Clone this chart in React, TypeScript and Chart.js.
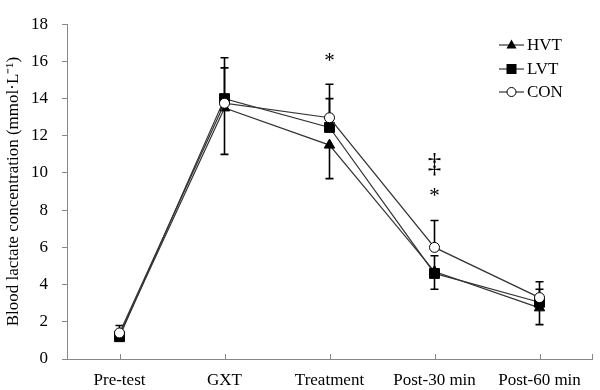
import React, { useEffect, useRef } from "react";
import { Chart, registerables } from "chart.js";

Chart.register(...registerables);

const categories = ["Pre-test", "GXT", "Treatment", "Post-30 min", "Post-60 min"];
const yTicks = [0, 2, 4, 6, 8, 10, 12, 14, 16, 18];

const hvt = [1.3, 13.5, 11.5, 4.7, 2.75];
const lvt = [1.2, 14.0, 12.45, 4.6, 3.05];
const con = [1.4, 13.75, 12.97, 6.0, 3.3];

const hvtErrUp = [0, 0, 0, 0.85, 0];
const hvtErrDown = [0, 2.5, 1.8, 0, 0.9];
const lvtErrUp = [0, 2.2, 1.55, 0, 0.7];
const lvtErrDown = [0, 0, 0, 0.85, 0];
const conErrUp = [0.4, 1.9, 1.8, 1.45, 0.85];
const conErrDown = [0, 0, 0, 0, 0];

const seriesNames = ["HVT", "LVT", "CON"];

const annotationCats = [2, 3, 3];
const annotationTexts = ["*", "*", "‡"];
const annotationValues = [16.0, 8.75, 10.45];
const annotationSizes = [21, 21, 27];

const FONT = "'Liberation Serif', 'Times New Roman', serif";

export default function App() {
  const ref = useRef<HTMLCanvasElement | null>(null);

  useEffect(() => {
    document.body.style.margin = "0";
    const canvas = ref.current;
    if (!canvas) return;

    const errUps = [hvtErrUp, lvtErrUp, conErrUp];
    const errDowns = [hvtErrDown, lvtErrDown, conErrDown];

    const errorBarPlugin = {
      id: "errorBars",
      beforeDatasetsDraw(chart: any) {
        const ctx = chart.ctx;
        const xs = chart.scales.x;
        const ys = chart.scales.y;
        const datas = [hvt, lvt, con];
        ctx.save();
        ctx.strokeStyle = "#000";
        ctx.lineWidth = 1.6;
        datas.forEach((d, si) => {
          d.forEach((v, i) => {
            const x = xs.getPixelForValue(i);
            const y0 = ys.getPixelForValue(v);
            const ends: number[] = [];
            if (errUps[si][i] > 0) ends.push(v + errUps[si][i]);
            if (errDowns[si][i] > 0) ends.push(v - errDowns[si][i]);
            ends.forEach((e) => {
              const y1 = ys.getPixelForValue(e);
              ctx.beginPath();
              ctx.moveTo(x, y0);
              ctx.lineTo(x, y1);
              ctx.moveTo(x - 4, y1);
              ctx.lineTo(x + 4, y1);
              ctx.stroke();
            });
          });
        });
        ctx.restore();
      },
    };

    const decoPlugin = {
      id: "deco",
      afterDraw(chart: any) {
        const ctx = chart.ctx;
        const xs = chart.scales.x;
        const ys = chart.scales.y;
        const area = chart.chartArea;
        ctx.save();
        ctx.strokeStyle = "#888";
        ctx.lineWidth = 1;
        const tickXs = categories.map((_, i) => xs.getPixelForValue(i));
        tickXs.push(area.right);
        tickXs.forEach((x) => {
          const xx = Math.round(x) + 0.5;
          ctx.beginPath();
          ctx.moveTo(xx, area.bottom);
          ctx.lineTo(xx, area.bottom - 5);
          ctx.stroke();
        });
        ctx.fillStyle = "#000";
        ctx.textAlign = "center";
        ctx.textBaseline = "middle";
        annotationTexts.forEach((t, k) => {
          ctx.font = `${annotationSizes[k]}px ${FONT}`;
          ctx.fillText(t, xs.getPixelForValue(annotationCats[k]), ys.getPixelForValue(annotationValues[k]));
        });
        const lx0 = area.right - 93;
        const lx1 = area.right - 68;
        const mx = (lx0 + lx1) / 2;
        const rows = [45, 69, 92];
        ctx.font = `17px ${FONT}`;
        ctx.textAlign = "left";
        seriesNames.forEach((name, i) => {
          const y = rows[i];
          ctx.strokeStyle = "#333";
          ctx.lineWidth = 1.2;
          ctx.beginPath();
          ctx.moveTo(lx0, y);
          ctx.lineTo(lx1, y);
          ctx.stroke();
          ctx.fillStyle = "#000";
          ctx.strokeStyle = "#000";
          ctx.lineWidth = 1;
          if (i === 0) {
            ctx.beginPath();
            ctx.moveTo(mx, y - 5.5);
            ctx.lineTo(mx + 5, y + 3.5);
            ctx.lineTo(mx - 5, y + 3.5);
            ctx.closePath();
            ctx.fill();
          } else if (i === 1) {
            ctx.fillRect(mx - 5, y - 5, 10, 10);
          } else {
            ctx.fillStyle = "#fff";
            ctx.beginPath();
            ctx.arc(mx, y, 4.5, 0, Math.PI * 2);
            ctx.fill();
            ctx.stroke();
          }
          ctx.fillStyle = "#000";
          ctx.fillText(name, lx1 + 3, y + 1);
        });
        ctx.restore();
      },
    };

    const chart = new Chart(canvas, {
      type: "line",
      data: {
        labels: categories,
        datasets: [
          {
            label: "HVT",
            data: hvt,
            borderColor: "#333",
            borderWidth: 1.2,
            pointStyle: "triangle",
            pointRadius: 6,
            pointBackgroundColor: "#000",
            pointBorderColor: "#000",
            pointBorderWidth: 1,
            order: 2,
          },
          {
            label: "LVT",
            data: lvt,
            borderColor: "#333",
            borderWidth: 1.2,
            pointStyle: "rect",
            pointRadius: 7,
            pointBackgroundColor: "#000",
            pointBorderColor: "#000",
            pointBorderWidth: 1,
            order: 1,
          },
          {
            label: "CON",
            data: con,
            borderColor: "#333",
            borderWidth: 1.2,
            pointStyle: "circle",
            pointRadius: 5,
            pointBackgroundColor: "#fff",
            pointBorderColor: "#000",
            pointBorderWidth: 1,
            order: 0,
          },
        ],
      },
      options: {
        responsive: false,
        animation: false,
        events: [],
        layout: { padding: { top: 13, right: 5, left: 0, bottom: 0 } },
        plugins: { legend: { display: false }, tooltip: { enabled: false } },
        scales: {
          x: {
            offset: true,
            grid: { display: false },
            border: { display: true, color: "#888", width: 1 },
            ticks: { color: "#000", font: { family: FONT, size: 17 }, padding: 3, maxRotation: 0 },
            afterFit: (s: any) => {
              s.height = 31;
            },
          },
          y: {
            min: 0,
            max: 18,
            afterBuildTicks: (s: any) => {
              s.ticks = yTicks.map((v) => ({ value: v }));
            },
            grid: { display: true, drawOnChartArea: false, drawTicks: true, tickLength: 5, color: "#888" },
            border: { display: true, color: "#888", width: 1 },
            ticks: { color: "#000", font: { family: FONT, size: 17 }, padding: 14 },
            title: {
              display: true,
              text: "Blood lactate concentration (mmol·L⁻¹)",
              color: "#000",
              font: { family: FONT, size: 17 },
              padding: { top: 3, bottom: 0 },
            },
            afterFit: (s: any) => {
              s.width = 67;
            },
          },
        },
      },
      plugins: [errorBarPlugin, decoPlugin],
    } as any);

    return () => chart.destroy();
  }, []);

  return (
    <div style={{ width: 600, height: 390 }}>
      <canvas ref={ref} width={600} height={390} style={{ display: "block" }} />
    </div>
  );
}
